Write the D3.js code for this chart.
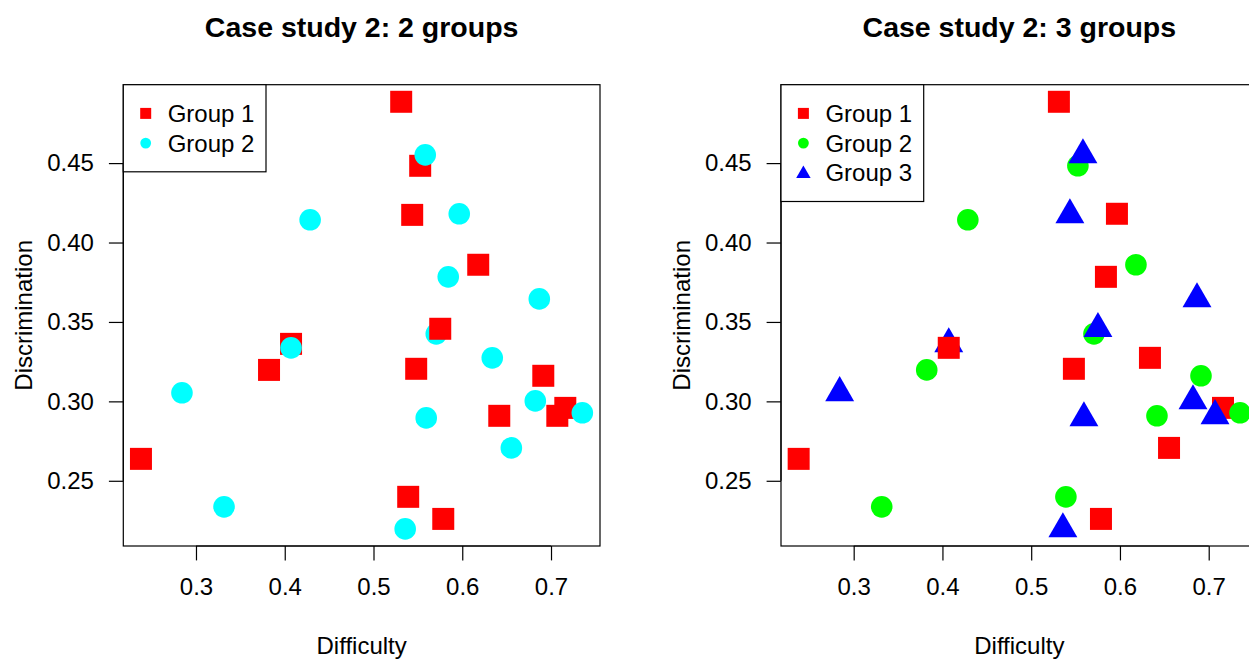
<!DOCTYPE html>
<html>
<head>
<meta charset="utf-8">
<script src="https://cdn.jsdelivr.net/npm/d3@7"></script>
<style>
body { margin:0; background:#fff; }
text { font-family: "Liberation Sans", Arial, sans-serif; fill:#000; }
</style>
</head>
<body>
<div id="chart"></div>
<script>

/* ==========================
   Data
========================== */

const difficulty = [0.5312,0.5526,0.5436,0.6180,0.4071,0.3823,0.5481,0.6913,0.6417,0.7161,
0.7071,0.2380,0.5391,0.5786,0.5583,0.4286,0.5966,0.5842,0.6868,0.5707,
0.4071,0.6338,0.2842,0.5594,0.6823,0.7353,0.6553,0.3316,0.5357,0.5752];

const discrimination = [0.4886,0.4483,0.4174,0.3860,0.3362,0.3198,0.3205,0.3161,0.2909,0.2959,
0.2909,0.2638,0.2399,0.2260,0.4552,0.4143,0.4181,0.3784,0.3645,0.3425,
0.3337,0.3274,0.3054,0.2896,0.3003,0.2928,0.2707,0.2336,0.2197,0.3457];

const groups2 = [1,1,1,1,1,1,1,1,1,1,1,1,1,1,2,2,2,2,2,2,2,2,2,2,2,2,2,2,2,1];
const groups3 = [1,2,3,2,3,2,1,2,2,1,3,1,2,1,3,2,1,1,3,2,1,1,3,3,3,2,1,2,3,3];

const xTicks = [0.3,0.4,0.5,0.6,0.7];
const yTicks = [0.25,0.30,0.35,0.40,0.45];

const labels2 = ["Group 1","Group 2"];
const colors2 = ["#ff0000","#00ffff"];
const shapes2 = ["square","circle"];

const labels3 = ["Group 1","Group 2","Group 3"];
const colors3 = ["#ff0000","#00ff00","#0000ff"];
const shapes3 = ["square","circle","triangle"];

/* ==========================
   Layout
========================== */

const width = 1249;
const height = 660;
const panelW = 657.7;
const margin = {left:123.3, right:57.7, top:84.7, bottom:114};

const svg = d3.select("#chart")
.append("svg")
.attr("width", width)
.attr("height", height);

function pad(ext){
const r = ext[1] - ext[0];
return [ext[0] - r*0.04, ext[1] + r*0.04];
}

const x = d3.scaleLinear()
.domain(pad(d3.extent(difficulty)))
.range([margin.left, panelW - margin.right]);

const y = d3.scaleLinear()
.domain(pad(d3.extent(discrimination)))
.range([height - margin.bottom, margin.top]);

// R style symbols, size = half side / radius
function shapePath(shape, s){
if(shape === "square"){
return `M${-s},${-s}H${s}V${s}H${-s}Z`;
}
if(shape === "circle"){
return `M${-s},0A${s},${s} 0 1,0 ${s},0A${s},${s} 0 1,0 ${-s},0Z`;
}
const hw = s*Math.sqrt(3)/2;
return `M0,${-s}L${hw},${s/2}L${-hw},${s/2}Z`;
}

const ptSize = {square:11, circle:10.8, triangle:16.7};

/* ==========================
   Panel
========================== */

function drawPanel(offset, title, grp, labels, colors, shapes){

const g = svg.append("g")
.attr("transform", `translate(${offset},0)`);

const x0 = x.range()[0], x1 = x.range()[1];
const y0 = y.range()[1], y1 = y.range()[0];

g.append("text")
.attr("x", (x0+x1)/2)
.attr("y", 37)
.attr("text-anchor", "middle")
.style("font-size", "28.5px")
.style("font-weight", "bold")
.text(title);

// points
g.selectAll("path.pt")
.data(difficulty.map((d,i) => ({x:d, y:discrimination[i], g:grp[i]-1})))
.enter()
.append("path")
.attr("class", "pt")
.attr("transform", d => `translate(${x(d.x)},${y(d.y)})`)
.attr("d", d => shapePath(shapes[d.g], ptSize[shapes[d.g]]))
.attr("fill", d => colors[d.g]);

// axes
const xa = g.append("g")
.attr("transform", `translate(0,${y1})`)
.call(d3.axisBottom(x).tickValues(xTicks).tickFormat(d3.format(".1f")).tickSize(14.4).tickPadding(18));
xa.select(".domain").attr("d", `M${x(xTicks[0])},0H${x(xTicks[xTicks.length-1])}`);

const ya = g.append("g")
.attr("transform", `translate(${x0},0)`)
.call(d3.axisLeft(y).tickValues(yTicks).tickFormat(d3.format(".2f")).tickSize(14.4).tickPadding(15));
ya.select(".domain").attr("d", `M0,${y(yTicks[0])}V${y(yTicks[yTicks.length-1])}`);

g.selectAll(".tick text")
.style("font-size", "24px")
.style("font-family", "'Liberation Sans', Arial, sans-serif")
.attr("fill", "#000");
g.selectAll(".tick line, .domain").attr("stroke", "#000").attr("stroke-width", 1.2);

// box
g.append("rect")
.attr("x", x0).attr("y", y0)
.attr("width", x1-x0).attr("height", y1-y0)
.attr("fill", "none")
.attr("stroke", "#000")
.attr("stroke-width", 1.2);

g.append("text")
.attr("x", (x0+x1)/2)
.attr("y", 654)
.attr("text-anchor", "middle")
.style("font-size", "24px")
.text("Difficulty");

g.append("text")
.attr("transform", `translate(32,${(y0+y1)/2}) rotate(-90)`)
.attr("text-anchor", "middle")
.style("font-size", "24px")
.text("Discrimination");

// legend
const rowH = 29.7;
const leg = g.append("g").attr("transform", `translate(${x0},${y0})`);

leg.append("rect")
.attr("width", 142.7)
.attr("height", 28.7*2 + (labels.length-1)*rowH)
.attr("fill", "#fff")
.attr("stroke", "#000")
.attr("stroke-width", 1.2);

labels.forEach((lab,i) => {
const cy = 28.7 + i*rowH;
leg.append("path")
.attr("transform", `translate(22.4,${cy + (shapes[i]==="triangle" ? 1 : 0)})`)
.attr("d", shapePath(shapes[i], ptSize[shapes[i]]/2))
.attr("fill", colors[i]);
leg.append("text")
.attr("x", 44.4)
.attr("y", cy + 8.6)
.style("font-size", "24px")
.text(lab);
});

}

drawPanel(0, "Case study 2: 2 groups", groups2, labels2, colors2, shapes2);
drawPanel(panelW, "Case study 2: 3 groups", groups3, labels3, colors3, shapes3);

</script>
</body>
</html>
